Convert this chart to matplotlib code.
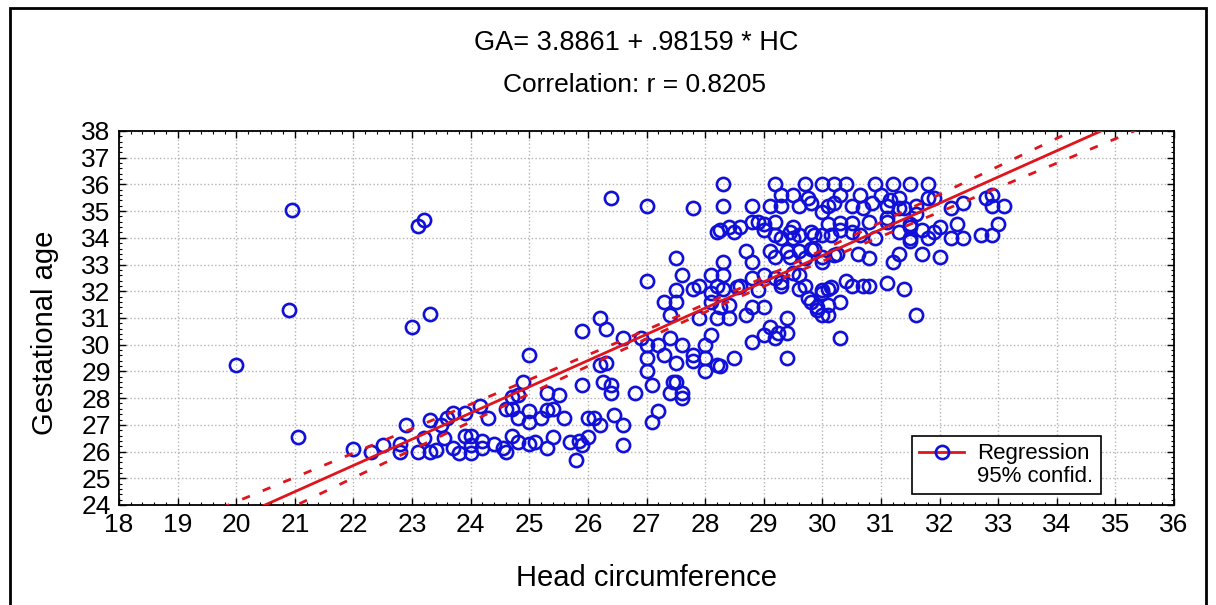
# Scatter of gestational age vs head circumference with regression line and 95% band.
import numpy as np
import matplotlib
matplotlib.use('Agg')
import matplotlib.pyplot as plt
from matplotlib.ticker import MultipleLocator
from matplotlib.lines import Line2D
from matplotlib.patches import Rectangle

plt.rcParams['font.family'] = ['Liberation Sans', 'DejaVu Sans']

# Regression coefficients (from the chart header).
intercept = 3.8861
slope = 0.98159
r_value = 0.8205

# 95% band: half-width at the mean HC and its growth away from it.
ci_mean_hc = 28.0
ci_half_mid = 0.15
ci_half_growth = 0.073

# Head circumference (x) and gestational age (y), grouped by region.
hc = [20.0, 20.9, 20.95, 21.05, 23.0, 23.1, 23.2, 23.3,
      22.0, 22.3, 22.5, 22.8, 22.8, 22.9, 23.1, 23.2, 23.3, 23.3, 23.4, 23.5, 23.55, 23.6,
      23.7, 23.7, 23.8, 23.9, 23.9, 24.0, 24.0, 24.0, 24.2, 24.3, 24.4, 24.15, 24.2,
      24.55, 24.6, 24.6, 24.7, 24.7, 24.7, 24.8, 24.8, 24.9, 24.8, 25.0, 25.0, 25.0, 25.0,
      25.1, 25.2, 25.3, 25.3, 25.3, 25.4, 25.4, 25.5, 25.6, 25.7, 25.8, 25.85, 25.9, 25.9,
      25.9, 26.0, 26.0, 26.1, 26.2, 26.2, 26.2, 26.3, 26.3, 26.25, 26.4, 26.4, 26.4, 26.45,
      26.6, 26.6, 26.6, 26.8, 26.9, 27.0, 27.0, 27.0, 27.0, 27.0, 27.1, 27.1, 27.2, 27.2,
      27.3, 27.3, 27.4, 27.4, 27.45, 27.4, 27.5, 27.5, 27.5, 27.5, 27.5, 27.6, 27.6, 27.6,
      27.6, 27.8, 27.8, 27.8, 27.8, 27.9, 27.9, 28.0, 28.0, 28.0, 28.1, 28.1, 28.1, 28.1,
      28.2, 28.2, 28.2, 28.2, 28.3, 28.3, 28.3, 28.3, 28.3, 28.25, 28.4, 28.4, 28.4, 28.5,
      28.5, 28.55, 28.25, 28.25,
      28.6, 28.6, 28.7, 28.7, 28.8, 28.8, 28.8, 28.8, 28.8, 28.8, 28.9, 28.9, 29.0, 29.0,
      29.0, 29.0, 29.0, 29.1, 29.1, 29.1, 29.2, 29.2, 29.2, 29.2, 29.2, 29.2, 29.25, 29.3,
      29.3, 29.3, 29.3, 29.3, 29.4, 29.4, 29.4, 29.4, 29.45, 29.45, 29.5, 29.5, 29.5, 29.5,
      29.6, 29.6, 29.6, 29.6, 29.6, 29.7, 29.7, 29.7, 29.75, 29.75, 29.8, 29.8, 29.8, 29.8,
      29.85, 29.85, 29.9, 29.9, 30.0, 30.0, 30.0, 30.0, 30.0, 30.0, 30.0, 30.0, 30.1, 30.1,
      30.1, 30.1, 30.1, 30.15, 30.15,
      30.2, 30.2, 30.2, 30.25, 30.3, 30.3, 30.3, 30.3, 30.3, 30.4, 30.4, 30.5, 30.5, 30.5,
      30.5, 30.6, 30.65, 30.65, 30.7, 30.7, 30.8, 30.8, 30.8, 30.85, 30.9, 30.9, 31.0, 31.1,
      31.1, 31.1, 31.1, 31.15, 31.2, 31.2, 31.3, 31.3, 31.3, 31.3, 31.4, 31.4, 31.5, 31.5,
      31.5, 31.5, 31.5, 31.6, 31.6, 31.6, 31.7, 31.7, 31.8, 31.8, 31.8, 31.9, 31.9, 32.0,
      32.0, 32.2, 32.2, 32.3, 32.4, 32.4, 32.7, 32.8, 32.9, 32.9, 32.9, 33.0, 33.1]
ga = [29.25, 31.3, 35.05, 26.55, 30.65, 34.45, 34.65, 31.15,
      26.1, 26.0, 26.25, 26.3, 26.0, 27.0, 26.0, 26.5, 27.2, 26.0, 26.05, 27.0, 26.5, 27.25,
      27.45, 26.15, 25.95, 27.45, 26.6, 26.25, 26.6, 25.95, 26.4, 27.25, 26.3, 27.7, 26.15,
      26.15, 26.0, 27.6, 27.6, 26.6, 28.05, 26.35, 27.25, 28.6, 28.1, 29.6, 27.5, 27.1, 26.3,
      26.35, 27.25, 28.2, 27.55, 26.15, 26.55, 27.6, 28.1, 27.25, 26.35, 25.7, 26.4, 26.25, 30.5,
      28.5, 27.25, 26.55, 27.25, 31.0, 29.25, 27.0, 30.6, 29.3, 28.6, 35.5, 28.5, 28.2, 27.35,
      30.25, 27.0, 26.25, 28.2, 30.25, 35.2, 32.4, 30.0, 29.0, 29.5, 28.5, 27.1, 27.5, 30.0,
      29.6, 31.6, 31.1, 30.25, 28.6, 28.2, 33.25, 32.05, 31.6, 29.3, 28.6, 32.6, 30.0, 28.0,
      28.2, 32.1, 35.1, 29.6, 29.4, 32.2, 31.0, 30.0, 29.0, 29.5, 32.6, 30.35, 31.6, 31.95,
      32.2, 31.0, 29.25, 34.2, 36.0, 35.2, 33.1, 32.6, 32.1, 31.4, 31.5, 31.0, 34.4, 29.5,
      34.2, 32.15, 34.3, 29.2,
      34.4, 32.2, 33.5, 31.1, 33.1, 30.1, 35.2, 32.5, 31.4, 34.6, 34.6, 32.05, 32.6, 31.4,
      34.5, 30.35, 34.3, 35.2, 33.5, 30.65, 36.0, 34.6, 33.3, 30.25, 34.1, 32.5, 30.45, 35.6,
      35.2, 34.0, 32.2, 32.35, 31.0, 30.45, 29.5, 33.5, 34.2, 33.3, 34.4, 35.6, 34.0, 32.7,
      35.2, 34.1, 32.6, 33.5, 32.1, 36.0, 32.2, 33.25, 31.75, 35.5, 35.3, 34.2, 33.6, 31.6,
      34.1, 33.6, 31.4, 31.3, 36.0, 34.1, 32.05, 31.1, 34.95, 33.1, 31.95, 33.3, 35.2, 34.5,
      32.1, 31.5, 31.1, 34.1, 32.15,
      36.0, 35.3, 33.35, 33.4, 35.6, 34.55, 34.3, 31.6, 30.25, 36.0, 32.4, 35.2, 34.55, 34.2,
      32.2, 33.4, 35.6, 34.1, 35.1, 32.2, 34.6, 33.25, 32.2, 35.3, 36.0, 34.0, 35.6, 35.2,
      34.6, 34.75, 32.3, 35.4, 36.0, 33.1, 35.5, 35.1, 34.2, 33.4, 35.1, 32.1, 36.0, 34.5,
      34.0, 34.4, 33.9, 35.2, 34.9, 31.1, 34.3, 33.4, 36.0, 35.5, 34.0, 35.5, 34.2, 34.4,
      33.3, 35.1, 34.0, 34.5, 35.3, 34.0, 34.1, 35.5, 35.6, 35.2, 34.1, 34.5, 35.2]

xx = np.linspace(18, 36, 200)
fit = intercept + slope * xx
half = np.sqrt(ci_half_mid ** 2 + (ci_half_growth * (xx - ci_mean_hc)) ** 2)

fig = plt.figure(figsize=(12.16, 6.05), dpi=100)
ax = fig.add_axes([0.0979, 0.1653, 0.8676, 0.6182])

blue = '#1010d8'
red = '#e0141c'
ax.plot(hc, ga, 'o', mfc='none', mec=blue, mew=1.9, ms=9.5, zorder=3)
ax.plot(xx, fit, color=red, lw=2, zorder=4)
ax.plot(xx, fit + half, color=red, lw=2, dashes=(3, 5), zorder=4)
ax.plot(xx, fit - half, color=red, lw=2, dashes=(3, 5), zorder=4)

ax.set_xlim(18, 36)
ax.set_ylim(24, 38)
ax.xaxis.set_major_locator(MultipleLocator(1))
ax.yaxis.set_major_locator(MultipleLocator(1))
ax.xaxis.set_minor_locator(MultipleLocator(0.2))
ax.yaxis.set_minor_locator(MultipleLocator(0.2))
ax.grid(True, which='major', color='#b4b4b4', linestyle=':', lw=1)
ax.tick_params(which='both', direction='in', top=True, right=True, labelsize=19)
ax.tick_params(which='major', length=5, width=1)
ax.tick_params(which='minor', length=2.5, width=0.8)
ax.tick_params(axis='x', pad=6)
ax.tick_params(axis='y', pad=6)
for sp in ax.spines.values():
    sp.set_linewidth(1.3)

fig.text(636 / 1216, 1 - 43 / 605, 'GA= 3.8861 + .98159 * HC', ha='center', va='center',
         fontsize=19.5)
fig.text(634 / 1216, 1 - 85 / 605, 'Correlation: r = %.4f' % r_value, ha='center', va='center',
         fontsize=19)
fig.text(647 / 1216, 1 - 578 / 605, 'Head circumference', ha='center', va='center', fontsize=21)
fig.text(45 / 1216, 1 - 333 / 605, 'Gestational age', ha='center', va='center', fontsize=21,
         rotation=90)

handles = [Line2D([], [], color=red, lw=2, marker='o', mfc='none', mec=blue, mew=1.9, ms=9.5),
           Line2D([], [], color='none')]
leg = ax.legend(handles, ['Regression', '95% confid.'], loc='center',
                bbox_to_anchor=(0.841, 0.107), fontsize=16, fancybox=False, framealpha=1,
                edgecolor='black', handlelength=2.0, handletextpad=0.6,
                labelspacing=0.05, borderpad=0.35)
leg.get_frame().set_linewidth(1.2)

# Outer frame around the whole picture.
fig.patches.append(Rectangle((10 / 1216, -0.02), 1196 / 1216, 1.02 - 8 / 605,
                             transform=fig.transFigure, fill=False, ec='black', lw=2))

fig.savefig('out.png', dpi=100)
